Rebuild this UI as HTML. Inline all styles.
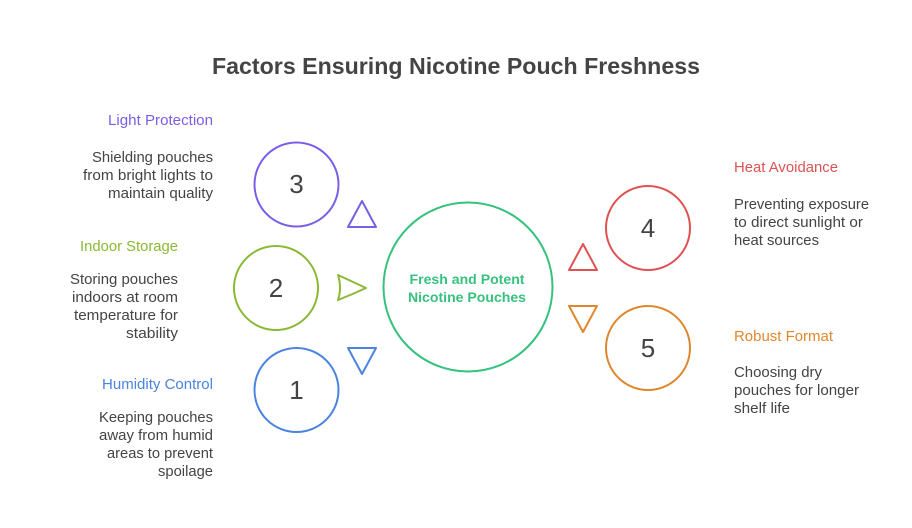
<!DOCTYPE html>
<html>
<head>
<meta charset="utf-8">
<style>
  html,body{margin:0;padding:0;background:#fff;}
  svg{display:block;}
  text{font-family:"Liberation Sans",Arial,sans-serif;}
</style>
</head>
<body>
<svg width="912" height="528" viewBox="0 0 912 528" xmlns="http://www.w3.org/2000/svg">
  <rect width="912" height="528" fill="#ffffff"/>
  <!-- Title -->
  <text x="456" y="74" text-anchor="middle" font-size="23" font-weight="bold" fill="#444444" textLength="488" lengthAdjust="spacingAndGlyphs">Factors Ensuring Nicotine Pouch Freshness</text>

  <!-- Center circle -->
  <circle cx="468" cy="287" r="84.5" fill="none" stroke="#36c27e" stroke-width="2"/>
  <text x="467" y="284" text-anchor="middle" font-size="13.5" font-weight="bold" fill="#36c27e" textLength="115" lengthAdjust="spacingAndGlyphs">Fresh and Potent</text>
  <text x="467" y="302" text-anchor="middle" font-size="13.5" font-weight="bold" fill="#36c27e" textLength="118" lengthAdjust="spacingAndGlyphs">Nicotine Pouches</text>

  <!-- Circle 3 purple -->
  <circle cx="296.5" cy="184.5" r="42" fill="none" stroke="#7b5ee6" stroke-width="2"/>
  <text x="296.5" y="193" text-anchor="middle" font-size="26" fill="#444444">3</text>
  <path d="M362 201 Q369 214 376 227 L348 227 Q355 214 362 201 Z" fill="none" stroke="#7b5ee6" stroke-width="2" stroke-linejoin="round"/>

  <!-- Circle 2 green -->
  <circle cx="276" cy="288" r="42" fill="none" stroke="#8bb935" stroke-width="2"/>
  <text x="276" y="297" text-anchor="middle" font-size="26" fill="#444444">2</text>
  <path d="M338 275 Q352 281.5 366 288 Q352 294.5 338 300 Q342 288 338 275 Z" fill="none" stroke="#8bb935" stroke-width="2" stroke-linejoin="round"/>

  <!-- Circle 1 blue -->
  <circle cx="296.5" cy="390" r="42" fill="none" stroke="#4a84e0" stroke-width="2"/>
  <text x="296.5" y="399" text-anchor="middle" font-size="26" fill="#444444">1</text>
  <path d="M348 348 L376 348 Q369 361 362 374 Q355 361 348 348 Z" fill="none" stroke="#4a84e0" stroke-width="2" stroke-linejoin="round"/>

  <!-- Circle 4 red -->
  <circle cx="648" cy="228" r="42" fill="none" stroke="#e05252" stroke-width="2"/>
  <text x="648" y="237" text-anchor="middle" font-size="26" fill="#444444">4</text>
  <path d="M583 244 Q590 257 597 270 L569 270 Q576 257 583 244 Z" fill="none" stroke="#e05252" stroke-width="2" stroke-linejoin="round"/>

  <!-- Circle 5 orange -->
  <circle cx="648" cy="348" r="42" fill="none" stroke="#e0872d" stroke-width="2"/>
  <text x="648" y="357" text-anchor="middle" font-size="26" fill="#444444">5</text>
  <path d="M569 306 L597 306 Q590 319 583 332 Q576 319 569 306 Z" fill="none" stroke="#e0872d" stroke-width="2" stroke-linejoin="round"/>

  <!-- Left labels -->
  <g font-size="14.5" text-anchor="end" lengthAdjust="spacingAndGlyphs">
    <text x="213" y="125" fill="#7b5ee6" textLength="105" lengthAdjust="spacingAndGlyphs">Light Protection</text>
    <text x="213" y="162" fill="#444444" textLength="121" lengthAdjust="spacingAndGlyphs">Shielding pouches</text>
    <text x="213" y="180" fill="#444444" textLength="130" lengthAdjust="spacingAndGlyphs">from bright lights to</text>
    <text x="213" y="198" fill="#444444" textLength="105" lengthAdjust="spacingAndGlyphs">maintain quality</text>

    <text x="178" y="251" fill="#8bb935" textLength="98" lengthAdjust="spacingAndGlyphs">Indoor Storage</text>
    <text x="178" y="284" fill="#444444" textLength="108" lengthAdjust="spacingAndGlyphs">Storing pouches</text>
    <text x="178" y="302" fill="#444444" textLength="106" lengthAdjust="spacingAndGlyphs">indoors at room</text>
    <text x="178" y="320" fill="#444444" textLength="104" lengthAdjust="spacingAndGlyphs">temperature for</text>
    <text x="178" y="338" fill="#444444" textLength="52" lengthAdjust="spacingAndGlyphs">stability</text>

    <text x="213" y="389" fill="#4a84e0" textLength="111" lengthAdjust="spacingAndGlyphs">Humidity Control</text>
    <text x="213" y="422" fill="#444444" textLength="114" lengthAdjust="spacingAndGlyphs">Keeping pouches</text>
    <text x="213" y="440" fill="#444444" textLength="114" lengthAdjust="spacingAndGlyphs">away from humid</text>
    <text x="213" y="458" fill="#444444" textLength="106" lengthAdjust="spacingAndGlyphs">areas to prevent</text>
    <text x="213" y="476" fill="#444444" textLength="55" lengthAdjust="spacingAndGlyphs">spoilage</text>
  </g>

  <!-- Right labels -->
  <g font-size="14.5" text-anchor="start">
    <text x="734" y="172" fill="#e05252" textLength="104" lengthAdjust="spacingAndGlyphs">Heat Avoidance</text>
    <text x="734" y="209" fill="#444444" textLength="135" lengthAdjust="spacingAndGlyphs">Preventing exposure</text>
    <text x="734" y="227" fill="#444444" textLength="129" lengthAdjust="spacingAndGlyphs">to direct sunlight or</text>
    <text x="734" y="245" fill="#444444" textLength="85" lengthAdjust="spacingAndGlyphs">heat sources</text>

    <text x="734" y="341" fill="#e0872d" textLength="99" lengthAdjust="spacingAndGlyphs">Robust Format</text>
    <text x="734" y="377" fill="#444444" textLength="88" lengthAdjust="spacingAndGlyphs">Choosing dry</text>
    <text x="734" y="395" fill="#444444" textLength="125" lengthAdjust="spacingAndGlyphs">pouches for longer</text>
    <text x="734" y="413" fill="#444444" textLength="56" lengthAdjust="spacingAndGlyphs">shelf life</text>
  </g>
</svg>
</body>
</html>
